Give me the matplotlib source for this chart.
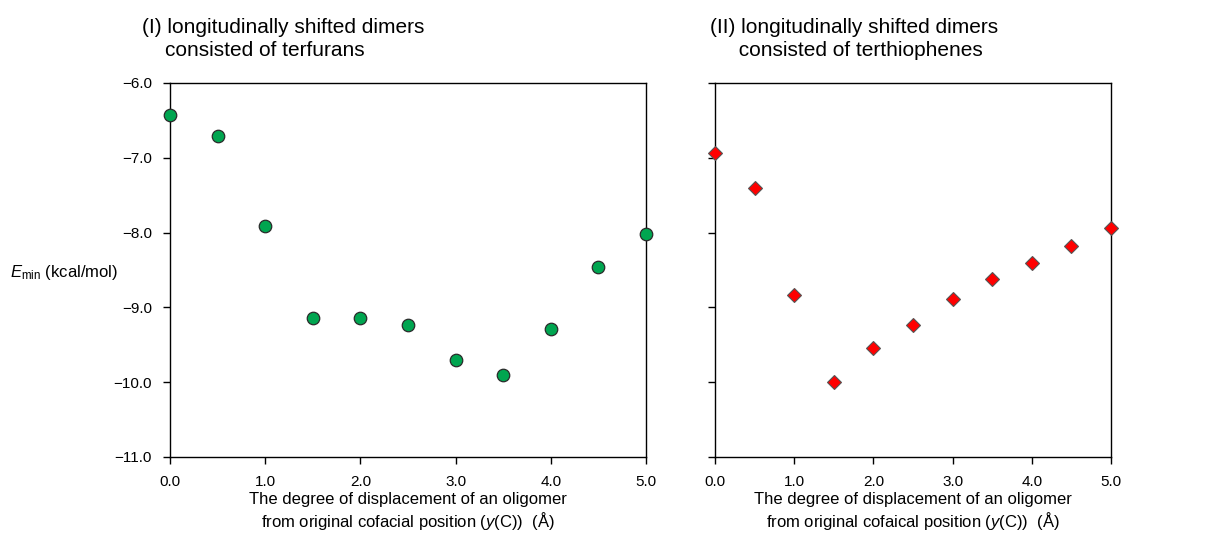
import numpy as np
import matplotlib
matplotlib.use("Agg")
import matplotlib.pyplot as plt

plt.rcParams['font.family'] = ['Liberation Sans', 'DejaVu Sans']
plt.rcParams['mathtext.fontset'] = 'custom'
plt.rcParams['mathtext.it'] = 'Liberation Sans:italic'
plt.rcParams['mathtext.rm'] = 'Liberation Sans'

shift = [0.0, 0.5, 1.0, 1.5, 2.0, 2.5, 3.0, 3.5, 4.0, 4.5, 5.0]
e_terfuran = [-6.43, -6.71, -7.91, -9.14, -9.14, -9.23, -9.70, -9.91, -9.29, -8.46, -8.02]
e_terthiophene = [-6.93, -7.40, -8.84, -10.00, -9.54, -9.23, -8.89, -8.62, -8.40, -8.18, -7.94]

xticks = [0.0, 1.0, 2.0, 3.0, 4.0, 5.0]
yticks = [-11.0, -10.0, -9.0, -8.0, -7.0, -6.0]

fig = plt.figure(figsize=(12.07, 5.51), dpi=100)
ax1 = fig.add_axes([0.1408, 0.1706, 0.3944, 0.6788])
ax2 = fig.add_axes([0.5924, 0.1706, 0.3281, 0.6788])

ax1.plot(shift, e_terfuran, 'o', ms=9, mfc='#00a550', mec='#2a2a2a', mew=0.9, clip_on=False, zorder=5)
ax2.plot(shift, e_terthiophene, 'D', ms=7.5, mfc='#ff0000', mec='#555555', mew=0.8, clip_on=False, zorder=5)

xlab1 = "The degree of displacement of an oligomer\nfrom original cofacial position ($y$(C))  (Å)"
xlab2 = "The degree of displacement of an oligomer\nfrom original cofaical position ($y$(C))  (Å)"

for ax, lab in ((ax1, xlab1), (ax2, xlab2)):
    ax.set_xlim(0, 5)
    ax.set_ylim(-11, -6)
    ax.set_xticks(xticks)
    ax.set_yticks(yticks)
    ax.set_xticklabels([f"{t:.1f}" for t in xticks])
    ax.tick_params(direction='out', length=5, width=1, labelsize=11, pad=8)
    for s in ax.spines.values():
        s.set_linewidth(1)
    ax.set_xlabel(lab, fontsize=12, labelpad=2, linespacing=1.2)

ax1.set_yticklabels([f"{t:.1f}".replace('-', '\u2212') for t in yticks])
ax2.set_yticklabels([])

fig.text(0.118, 0.968, "(I) longitudinally shifted dimers\n    consisted of terfurans",
         fontsize=15, ha='left', va='top', linespacing=1.3)
fig.text(0.588, 0.968, "(II) longitudinally shifted dimers\n     consisted of terthiophenes",
         fontsize=15, ha='left', va='top', linespacing=1.3)
fig.text(0.008, 0.506, r"$E_{\mathrm{min}}$ (kcal/mol)", fontsize=12, ha='left', va='center')

fig.savefig("out.png", dpi=100)
